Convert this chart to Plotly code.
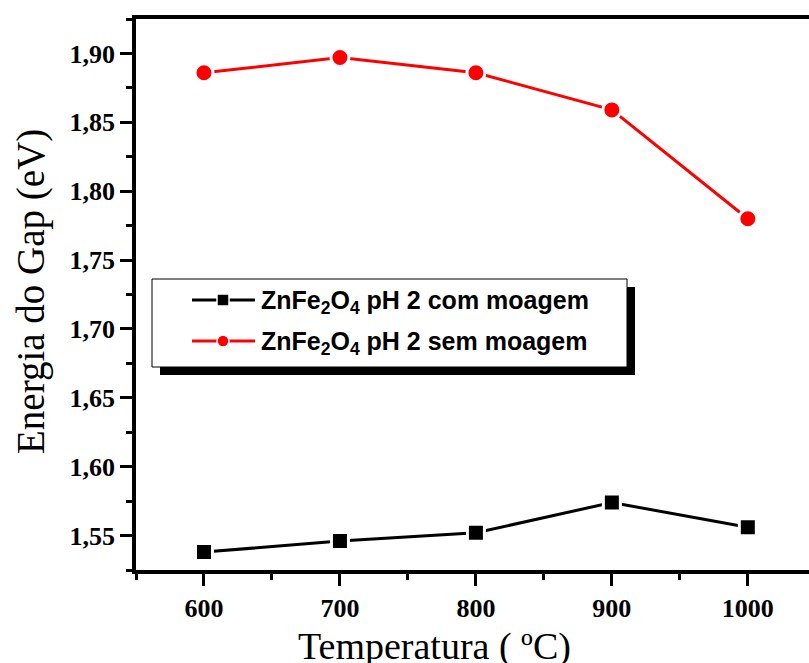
import plotly.graph_objects as go

# Calcination temperature (°C) and optical band gap (eV)
temperatura = [600, 700, 800, 900, 1000]
gap_com_moagem = [1.538, 1.546, 1.552, 1.574, 1.556]
gap_sem_moagem = [1.886, 1.897, 1.886, 1.859, 1.780]

serie_com = "ZnFe<sub>2</sub>O<sub>4</sub> pH 2 com moagem"
serie_sem = "ZnFe<sub>2</sub>O<sub>4</sub> pH 2 sem moagem"

W, H = 809, 663
L, R, T, B = 136, 0, 19, 93
PW, PH = W - L - R, H - T - B

def px(x):
    return (x - L) / PW

def py(y):
    return (H - B - y) / PH

fig = go.Figure()
fig.add_trace(go.Scatter(
    x=temperatura, y=gap_com_moagem, mode="lines+markers", name=serie_com,
    line=dict(color="black", width=3),
    marker=dict(symbol="square", size=17, color="black", line=dict(color="white", width=3)),
    showlegend=False,
))
fig.add_trace(go.Scatter(
    x=temperatura, y=gap_sem_moagem, mode="lines+markers", name=serie_sem,
    line=dict(color="#ff0000", width=3),
    marker=dict(symbol="circle", size=18, color="#ff0000", line=dict(color="white", width=3)),
    showlegend=False,
))

tick_font = dict(family="Liberation Serif", size=26, color="black", weight="bold")

fig.update_xaxes(
    range=[550, 1045], tickvals=temperatura, ticktext=[str(t) for t in temperatura],
    showline=True, linecolor="black", linewidth=3.5, mirror=True,
    ticks="outside", ticklen=12, tickwidth=3, tickcolor="black",
    minor=dict(dtick=50, tick0=550, ticks="outside", ticklen=6, tickwidth=3, tickcolor="black"),
    tickfont=tick_font, showgrid=False, zeroline=False,
)
fig.update_yaxes(
    range=[1.525, 1.925], tickvals=[1.55, 1.60, 1.65, 1.70, 1.75, 1.80, 1.85, 1.90],
    ticktext=["1,55", "1,60", "1,65", "1,70", "1,75", "1,80", "1,85", "1,90"],
    showline=True, linecolor="black", linewidth=3.5, mirror=False,
    ticks="outside", ticklen=12, tickwidth=3, tickcolor="black",
    minor=dict(dtick=0.025, tick0=1.525, ticks="outside", ticklen=6, tickwidth=3, tickcolor="black"),
    tickfont=tick_font, showgrid=False, zeroline=False,
)

# Axis titles
annotations = [
    dict(x=px(434), y=py(646), xref="paper", yref="paper", xanchor="center", yanchor="middle",
         showarrow=False, text="Temperatura ( ºC)",
         font=dict(family="Liberation Serif", size=38, color="black")),
    dict(x=px(31), y=py(292), xref="paper", yref="paper", xanchor="center", yanchor="middle",
         showarrow=False, text="Energia do Gap (eV)", textangle=-90,
         font=dict(family="Liberation Serif", size=39, color="black")),
]

# Legend box with drop shadow
shapes = [
    dict(type="rect", xref="paper", yref="paper", x0=px(160), x1=px(635), y0=py(375), y1=py(287),
         fillcolor="black", line=dict(width=0), layer="above"),
    dict(type="rect", xref="paper", yref="paper", x0=px(152), x1=px(627), y0=py(367), y1=py(279),
         fillcolor="white", line=dict(color="black", width=1), layer="above"),
]
for yy, color, sym, name in [(300, "black", "square", serie_com), (341, "#ff0000", "circle", serie_sem)]:
    shapes.append(dict(type="line", xref="paper", yref="paper", x0=px(192), x1=px(255),
                       y0=py(yy), y1=py(yy), line=dict(color=color, width=3), layer="above"))
    s = 6
    shapes.append(dict(type="rect" if sym == "square" else "circle", xref="paper", yref="paper",
                       x0=px(223 - s), x1=px(223 + s), y0=py(yy + s), y1=py(yy - s),
                       fillcolor=color, line=dict(color="white", width=1.5), layer="above"))
    annotations.append(dict(x=px(259), y=py(yy + 2), xref="paper", yref="paper", xanchor="left",
                            yanchor="middle", showarrow=False, text="<b>" + name + "</b>",
                            font=dict(family="Liberation Sans", size=25, color="black")))

fig.update_layout(
    width=W, height=H, margin=dict(l=L, r=R, t=T, b=B),
    paper_bgcolor="white", plot_bgcolor="white",
    shapes=shapes, annotations=annotations, showlegend=False,
)
fig.write_html("out.html")
